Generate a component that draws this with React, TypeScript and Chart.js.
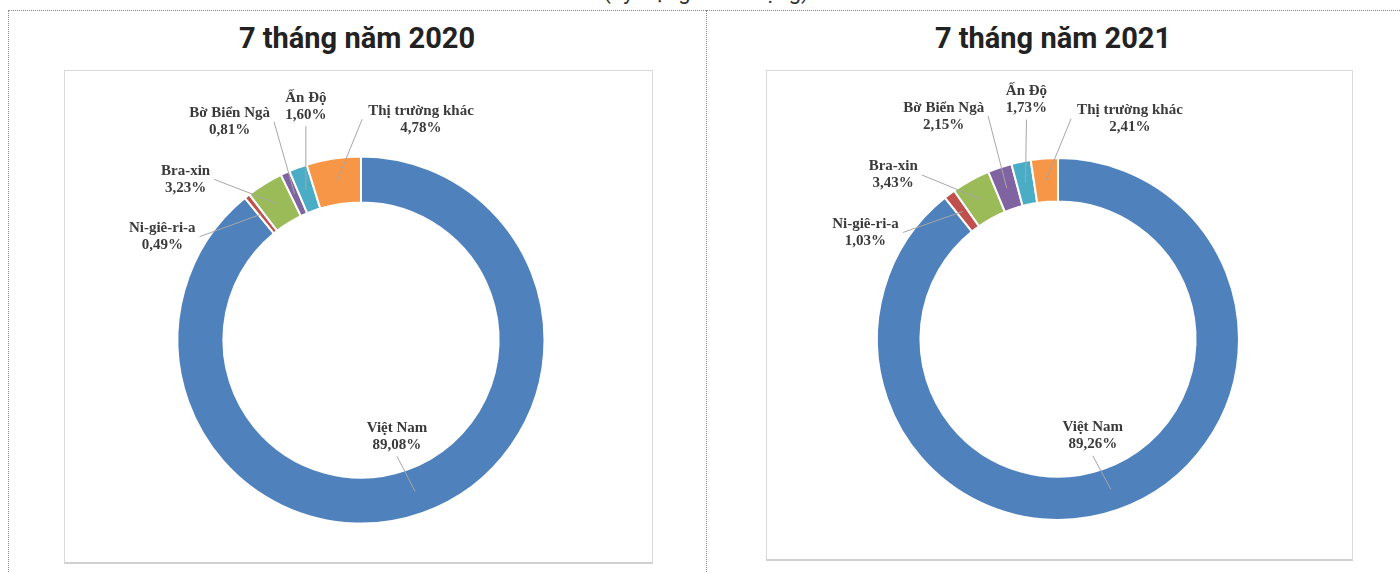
import React, { useEffect, useRef } from "react";
import { Chart, registerables } from "chart.js";

Chart.register(...registerables);

// ---- Data ----
const categories = ["Việt Nam", "Ni-giê-ri-a", "Bra-xin", "Bờ Biển Ngà", "Ấn Độ", "Thị trường khác"];
const values2020 = [89.08, 0.49, 3.23, 0.81, 1.6, 4.78];
const values2021 = [89.26, 1.03, 3.43, 2.15, 1.73, 2.41];
const panelTitles = ["7 tháng năm 2020", "7 tháng năm 2021"];
const topTitle = "(Tỷ trọng theo lượng)";

// ---- Styles ----
const colors = ["#4F81BD", "#C0504D", "#9BBB59", "#8064A2", "#4BACC6", "#F79646"];
// label placement relative to each arc's anchor point: [dx, dy, side the leader line attaches to]
const labelOffsets2020: [number, number, string][] = [
  [-18, -55, "b"],
  [-99, 22.5, "r"],
  [-91, -24, "r"],
  [-65, -72, "r"],
  [0, -83, "b"],
  [84, -62, "l"],
];
const labelOffsets2021: [number, number, string][] = [
  [-18, -53.5, "b"],
  [-97, 21, "r"],
  [-88, -24.5, "r"],
  [-63, -72, "r"],
  [1, -83.5, "b"],
  [84, -61.5, "l"],
];

const fmt = (v: number) => v.toFixed(2).replace(".", ",") + "%";

const labelPlugin = {
  id: "donutLabels",
  afterDatasetsDraw(chart: any, _args: any, opts: any) {
    const ctx: CanvasRenderingContext2D = chart.ctx;
    const meta = chart.getDatasetMeta(0);
    const ds = chart.data.datasets[0];
    ctx.save();
    ctx.font = 'bold 15px "Liberation Serif", "Times New Roman", serif';
    meta.data.forEach((arc: any, i: number) => {
      const p = arc.getProps(["x", "y", "startAngle", "endAngle", "innerRadius", "outerRadius"], true);
      const mid = (p.startAngle + p.endAngle) / 2;
      const r = (p.innerRadius + p.outerRadius) / 2;
      const ax = p.x + Math.cos(mid) * r;
      const ay = p.y + Math.sin(mid) * r;
      const [dx, dy, side] = opts.offsets[i];
      const cx = ax + dx;
      const cy = ay + dy;
      const l1 = chart.data.labels[i] as string;
      const l2 = fmt(ds.data[i]);
      const w = Math.max(ctx.measureText(l1).width, ctx.measureText(l2).width);
      const h = 34;
      let sx = cx;
      let sy = cy;
      if (side === "b") {
        sx = cx;
        sy = cy + h / 2 + 3;
      } else if (side === "r") {
        sx = cx + w / 2 + 4;
        sy = cy;
      } else if (side === "l") {
        sx = cx - w / 2 - 6;
        sy = cy;
      }
      ctx.strokeStyle = "#a6a6a6";
      ctx.lineWidth = 1;
      ctx.beginPath();
      ctx.moveTo(sx, sy);
      ctx.lineTo(ax, ay);
      ctx.stroke();
      ctx.fillStyle = "#3a3a3a";
      ctx.textAlign = "center";
      ctx.textBaseline = "middle";
      ctx.fillText(l1, cx, cy - 8.5);
      ctx.fillText(l2, cx, cy + 8.5);
    });
    ctx.restore();
  },
};

function Donut(props: {
  values: number[];
  offsets: [number, number, string][];
  cutout: string;
  padding: { top: number; bottom: number; left: number; right: number };
  width: number;
  height: number;
}) {
  const ref = useRef<HTMLCanvasElement | null>(null);
  useEffect(() => {
    if (!ref.current) return;
    const chart = new Chart(ref.current, {
      type: "doughnut",
      data: {
        labels: categories,
        datasets: [
          {
            data: props.values,
            backgroundColor: colors,
            borderColor: "#ffffff",
            borderWidth: 2,
          },
        ],
      },
      options: {
        responsive: false,
        animation: false,
        cutout: props.cutout,
        layout: { padding: props.padding },
        plugins: {
          legend: { display: false },
          tooltip: { enabled: false },
          // @ts-ignore
          donutLabels: { offsets: props.offsets },
        },
      } as any,
      plugins: [labelPlugin as any],
    });
    return () => chart.destroy();
  }, []);
  return <canvas ref={ref} width={props.width} height={props.height} style={{ display: "block" }} />;
}

export default function App() {
  const titleStyle: React.CSSProperties = {
    position: "absolute",
    top: 20,
    width: 400,
    textAlign: "center",
    font: 'bold 29px Roboto, "Noto Sans", sans-serif',
    color: "#222222",
    lineHeight: "36px",
    whiteSpace: "nowrap",
  };
  const boxStyle: React.CSSProperties = {
    position: "absolute",
    border: "1px solid #d9d9d9",
    borderBottom: "2px solid #d0d0d0",
    boxSizing: "border-box",
    background: "#fff",
  };
  return (
    <div style={{ position: "absolute", left: 0, top: 0, width: 1400, height: 573, overflow: "hidden", background: "#fff" }}>
      <div
        style={{
          position: "absolute",
          left: 506,
          top: -21,
          width: 400,
          textAlign: "center",
          font: '22px Roboto, "Noto Sans", sans-serif',
          color: "#333",
          lineHeight: "26px",
          whiteSpace: "nowrap",
        }}
      >
        {topTitle}
      </div>
      {/* dotted frame */}
      <div style={{ position: "absolute", left: 8, top: 10, width: 1400, height: 0, borderTop: "1px dotted #8a8a8a" }} />
      <div style={{ position: "absolute", left: 8, top: 10, width: 0, height: 570, borderLeft: "1px dotted #8a8a8a" }} />
      <div style={{ position: "absolute", left: 706, top: 10, width: 0, height: 570, borderLeft: "1px dotted #8a8a8a" }} />

      <div style={{ ...titleStyle, left: 157 }}>{panelTitles[0]}</div>
      <div style={{ ...titleStyle, left: 853 }}>{panelTitles[1]}</div>

      <div style={{ ...boxStyle, left: 64, top: 70, width: 589, height: 494 }} />
      <div style={{ position: "absolute", left: 64, top: 70 }}>
        <Donut
          values={values2020}
          offsets={labelOffsets2020}
          cutout="75%"
          padding={{ top: 85.5, bottom: 38.5, left: 6, right: 0 }}
          width={588}
          height={493}
        />
      </div>

      <div style={{ ...boxStyle, left: 766, top: 70, width: 587, height: 491 }} />
      <div style={{ position: "absolute", left: 766, top: 70 }}>
        <Donut
          values={values2021}
          offsets={labelOffsets2021}
          cutout="76%"
          padding={{ top: 87, bottom: 39, left: 0, right: 0 }}
          width={584}
          height={490}
        />
      </div>
    </div>
  );
}
